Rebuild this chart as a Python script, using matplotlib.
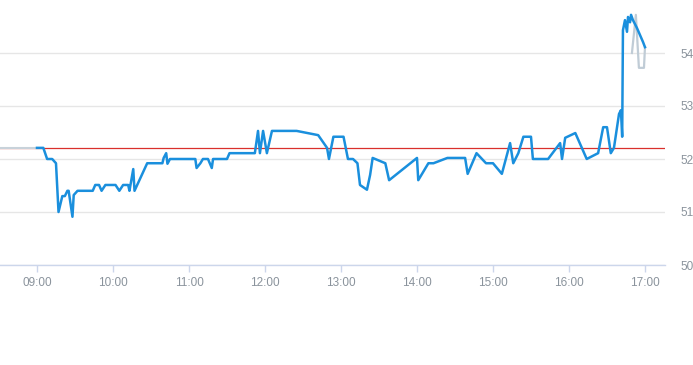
import matplotlib
matplotlib.use("Agg")
import matplotlib.pyplot as plt
from matplotlib import font_manager

# ---- data ----
# minutes after 09:00 and price
price_minutes = [0, 5, 8, 12, 15, 17, 20, 22, 24, 25, 28, 29, 32, 44, 46, 49, 51, 54,
                 62, 65, 68, 72, 73, 76, 77, 87, 99, 100, 102, 103, 105, 125, 126, 129,
                 131, 135, 138, 139, 150, 152, 172, 174.5, 176, 178.5, 181.5, 185.5, 205,
                 222, 229, 230.5, 234, 242, 245.5, 249.5, 253, 255, 260.5, 263, 265, 275,
                 278, 300, 301, 309, 313, 324, 338, 340, 347, 354.5, 360, 367, 373.5, 376,
                 380, 384, 390, 391.5, 403.5, 413, 414.5, 417, 425, 434, 443, 447, 450,
                 453, 455.5, 459.5, 461, 462, 462.6, 464.2, 465.8, 466.6, 468.2, 469,
                 470.5, 473.7, 478.4, 480]
price_values = [52.21, 52.21, 52.00, 52.00, 51.92, 51.00, 51.30, 51.30, 51.40, 51.40, 50.91,
                51.32, 51.40, 51.40, 51.51, 51.51, 51.40, 51.51, 51.51, 51.40, 51.51, 51.51,
                51.40, 51.81, 51.40, 51.92, 51.92, 52.02, 52.11, 51.91, 52.00, 52.00, 51.83,
                51.92, 52.00, 52.00, 51.83, 52.00, 52.00, 52.11, 52.11, 52.53, 52.11, 52.53,
                52.11, 52.53, 52.53, 52.45, 52.21, 52.00, 52.42, 52.42, 52.00, 52.00, 51.92,
                51.51, 51.42, 51.70, 52.02, 51.92, 51.60, 52.02, 51.60, 51.92, 51.92, 52.02,
                52.02, 51.72, 52.11, 51.92, 51.92, 51.72, 52.30, 51.92, 52.11, 52.42, 52.42,
                52.00, 52.00, 52.30, 52.00, 52.40, 52.49, 52.00, 52.11, 52.60, 52.60, 52.11,
                52.21, 52.85, 52.92, 52.42, 54.43, 54.62, 54.40, 54.68, 54.58, 54.72, 54.62,
                54.47, 54.21, 54.11]

pre_minutes = [-30, 0]
pre_values = [52.21, 52.21]

post_minutes = [469.7, 472.8, 475.2, 479.2, 480]
post_values = [54.00, 54.72, 53.72, 53.72, 54.11]

prev_close = 52.21

x_tick_labels = ["09:00", "10:00", "11:00", "12:00", "13:00", "14:00", "15:00", "16:00", "17:00"]
y_ticks = [50, 51, 52, 53, 54]
y_tick_labels = ["50", "51", "52", "53", "54"]

# ---- font ----
avail = {f.name for f in font_manager.fontManager.ttflist}
fam = "Liberation Sans Narrow" if "Liberation Sans Narrow" in avail else "Liberation Sans"
plt.rcParams["font.family"] = [fam, "DejaVu Sans"]

W, H = 693, 365
fig = plt.figure(figsize=(W / 100, H / 100), dpi=100)
ax = fig.add_axes([0, (H - 265) / H, 665 / W, 265 / H])

to_h = lambda ms: [9 + m / 60 for m in ms]

ax.axhline(prev_close, color="#d9302c", lw=0.9, zorder=3)
ax.plot(to_h(pre_minutes), pre_values, color="#c8d2da", lw=1.5, zorder=4)
ax.plot(to_h(post_minutes), post_values, color="#c0ccd6", lw=1.6, zorder=4)
ax.plot(to_h(price_minutes), price_values, color="#1a8fdd", lw=1.8, zorder=5)

ax.set_xlim(9 - 29.2 / 60, 17 + 15.8 / 60)
ax.set_ylim(50, 55)

ax.set_xticks([9 + i for i in range(len(x_tick_labels))])
ax.set_xticklabels(x_tick_labels)
ax.set_yticks(y_ticks)
ax.set_yticklabels(y_tick_labels)
ax.yaxis.tick_right()

for s in ["top", "left", "right"]:
    ax.spines[s].set_visible(False)
ax.spines["bottom"].set_color("#ccd6eb")
ax.spines["bottom"].set_linewidth(1)

ax.grid(axis="y", color="#e6e6e6", lw=1)
ax.set_axisbelow(True)

ax.tick_params(axis="x", colors="#ccd6eb", length=5, width=1, pad=4,
               labelcolor="#8a939c", labelsize=8.5)
ax.tick_params(axis="y", length=0, pad=11, labelcolor="#8a939c", labelsize=8.5)
for lab in ax.get_yticklabels():
    lab.set_horizontalalignment("left")

fig.savefig("out.png", dpi=100)
